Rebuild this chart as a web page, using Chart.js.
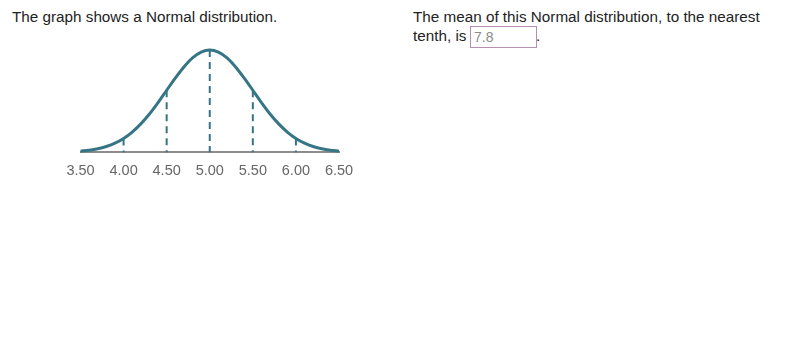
<!DOCTYPE html>
<html>
<head>
<meta charset="utf-8">
<script src="https://cdn.jsdelivr.net/npm/chart.js@4.4.1/dist/chart.umd.min.js"></script>
<style>
html, body { margin: 0; padding: 0; background: #fff; width: 800px; height: 353px; overflow: hidden;
  font-family: "Liberation Sans", Arial, sans-serif; }
.txt { position: absolute; font-size: 15.25px; color: #222; line-height: 18.4px; white-space: nowrap; }
#q1 { left: 12px; top: 8.4px; }
#q2 { left: 413px; top: 8.4px; }
#box { position: absolute; left: 470px; top: 26px; width: 62px; height: 20px; border: 1px solid #b68fb4;
  font-size: 14px; color: #8a8a8a; line-height: 20px; padding-left: 3px; box-sizing: content-box; }
#dot { position: absolute; left: 536px; top: 26.9px; font-size: 15.25px; color: #222; line-height: 18.4px; }
#wrap { position: absolute; left: 0; top: 0; width: 400px; height: 200px; }
</style>
</head>
<body>
<div id="q1" class="txt">The graph shows a Normal distribution.</div>
<div id="q2" class="txt">The mean of this Normal distribution, to the nearest<br>tenth, is</div>
<div id="box">7.8</div>
<div id="dot">.</div>
<div id="wrap"><canvas id="c" width="400" height="200"></canvas></div>
<script>
// Curve points (x value, height of curve)
const curveX = [3.5,3.6,3.7,3.8,3.9,4.0,4.1,4.2,4.3,4.4,4.5,4.6,4.7,4.8,4.9,5.0,
                5.1,5.2,5.3,5.4,5.5,5.6,5.7,5.8,5.9,6.0,6.1,6.2,6.3,6.4,6.5];
const curveY = [0.009,0.016,0.027,0.045,0.071,0.108,0.158,0.222,0.299,0.388,0.484,0.579,0.666,0.737,0.782,0.798,
                0.782,0.737,0.666,0.579,0.484,0.388,0.299,0.222,0.158,0.108,0.071,0.045,0.027,0.016,0.009];
// Dashed reference lines
const dashX = [4.0, 4.5, 5.0, 5.5, 6.0];
const dashTop = [0.108, 0.484, 0.798, 0.484, 0.108];
// Tick labels
const tickValues = [3.5, 4.0, 4.5, 5.0, 5.5, 6.0, 6.5];
const tickLabels = ['3.50','4.00','4.50','5.00','5.50','6.00','6.50'];

const teal = '#367585';

const datasets = [{
  data: curveX.map((x, i) => ({x: x, y: curveY[i]})),
  showLine: true, borderColor: teal, borderWidth: 3, pointRadius: 0,
  cubicInterpolationMode: 'monotone', fill: false, clip: false
}];
dashX.forEach((x, i) => {
  datasets.push({
    data: [{x: x, y: dashTop[i]}, {x: x, y: 0}],
    showLine: true, borderColor: teal, borderWidth: 2, borderDash: [7, 5],
    pointRadius: 0, fill: false, clip: false
  });
});

new Chart(document.getElementById('c'), {
  type: 'scatter',
  data: { datasets: datasets },
  options: {
    responsive: false, animation: false, devicePixelRatio: 1,
    layout: { padding: { left: 80.5, right: 61, top: 50, bottom: 0 } },
    plugins: { legend: { display: false }, tooltip: { enabled: false } },
    scales: {
      x: {
        type: 'linear', min: 3.5, max: 6.5,
        afterBuildTicks: (s) => { s.ticks = tickValues.map(v => ({value: v})); },
        afterFit: (s) => { s.height = 47.7; },
        grid: { display: false },
        border: { display: true, color: '#8c8c8c', width: 2 },
        ticks: {
          autoSkip: false, maxRotation: 0, padding: 2, color: '#666',
          font: { family: '"Liberation Sans", Arial, sans-serif', size: 14.5 },
          callback: (v) => { const k = tickValues.indexOf(v); return k >= 0 ? tickLabels[k] : ''; }
        }
      },
      y: { display: false, min: 0, max: 0.798 }
    }
  }
});
</script>
</body>
</html>
